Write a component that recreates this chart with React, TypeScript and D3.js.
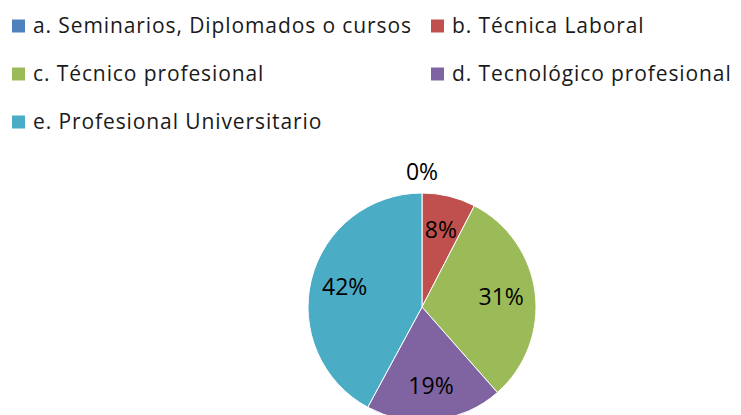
import React from "react";
import * as d3 from "d3";

const categories = [
  "a. Seminarios, Diplomados o cursos",
  "b. Técnica Laboral",
  "c. Técnico profesional",
  "d. Tecnológico profesional",
  "e. Profesional Universitario",
];
const values = [0, 7.6, 30.9, 19.4, 42.1];
const colors = ["#4F81BD", "#C0504D", "#9BBB59", "#8064A2", "#4BACC6"];

const W = 741;
const H = 415;
const FONT = "'Open Sans', sans-serif";

export default function App() {
  const cx = 422;
  const cy = 307;
  const r = 114;

  const pie = d3.pie<number>().sort(null).value((d) => d);
  const arcs = pie(values);
  const arcGen = d3.arc<d3.PieArcDatum<number>>().innerRadius(0).outerRadius(r);
  const labelArc = d3.arc<d3.PieArcDatum<number>>().innerRadius(r * 0.7).outerRadius(r * 0.7);
  const outArc = d3.arc<d3.PieArcDatum<number>>().innerRadius(r + 21).outerRadius(r + 21);

  const total = d3.sum(values);

  // legend: two columns, three rows
  const colX = [12, 431];
  const rowY = [26, 74, 122];

  return (
    <svg width={W} height={H} style={{ position: "absolute", left: 0, top: 0, background: "#fff" }}>
      <g>
        {categories.map((c, i) => {
          const x = colX[i % 2];
          const y = rowY[Math.floor(i / 2)];
          return (
            <g key={c} transform={`translate(${x},${y})`}>
              <rect x={0} y={-6.5} width={13} height={13} fill={colors[i]} />
              <text
                x={21}
                dy="0.35em"
                fontFamily={FONT}
                fontSize={21}
                letterSpacing={0.9}
                fill="#1a1a1a"
              >
                {c}
              </text>
            </g>
          );
        })}
      </g>
      <g transform={`translate(${cx},${cy})`}>
        {arcs.map((a, i) => (
          <path key={i} d={arcGen(a) || ""} fill={colors[i]} stroke="#fff" strokeWidth={1} />
        ))}
        {arcs.map((a, i) => {
          const [lx, ly] = a.value === 0 ? outArc.centroid(a) : labelArc.centroid(a);
          return (
            <text
              key={"l" + i}
              x={lx}
              y={ly}
              dy="0.35em"
              textAnchor="middle"
              fontFamily={FONT}
              fontSize={23}
              fill="#000"
            >
              {Math.round((a.value / total) * 100)}%
            </text>
          );
        })}
      </g>
    </svg>
  );
}
